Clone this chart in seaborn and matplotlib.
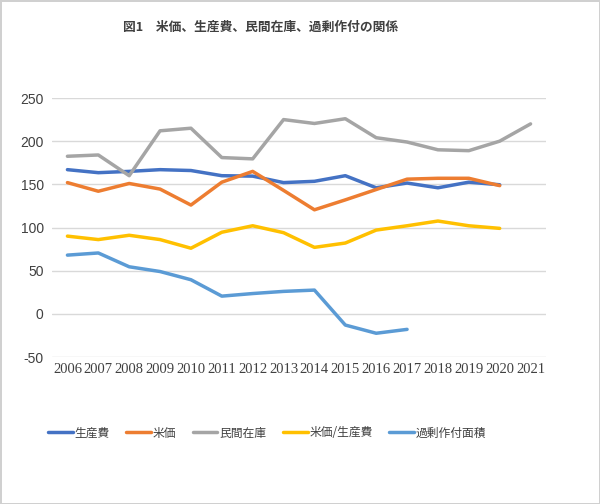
import matplotlib
matplotlib.use("Agg")
import matplotlib.pyplot as plt
import pandas as pd
import seaborn as sns

years = list(range(2006, 2022))
production_cost = [167, 163.5, 165, 167, 166, 160, 159.5, 152, 153.5, 160, 146, 151.5, 146, 152.5, 149.5, None]
rice_price = [152, 142, 151, 144.5, 126, 152.5, 165, 143, 120.5, 132, 144, 156, 157, 157, 148.5, None]
private_stock = [182.5, 184, 160, 212, 215, 181, 179.5, 225, 220.5, 226, 204, 199, 190, 189, 200, 220]
price_cost_ratio = [90, 86, 91, 86, 76, 94.5, 102, 94, 77, 82, 97, 102, 107.5, 102, 99, None]
excess_area = [68, 70.5, 54.5, 49, 39.5, 20.5, 23.5, 26, 27.5, -13, -22.5, -18, None, None, None, None]

series_names = ["生産費", "米価", "民間在庫", "米価/生産費", "過剰作付面積"]
series_values = [production_cost, rice_price, private_stock, price_cost_ratio, excess_area]
colors = ["#4472C4", "#ED7D31", "#A5A5A5", "#FFC000", "#5B9BD5"]

rows = []
for name, vals in zip(series_names, series_values):
    for yr, v in zip(years, vals):
        rows.append({"year": yr, "value": v, "series": name})
df = pd.DataFrame(rows).dropna()

sns.set_theme(style="white")
plt.rcParams["font.family"] = ["Noto Sans CJK JP", "DejaVu Sans"]

fig = plt.figure(figsize=(6, 5.04), dpi=100)
fig.patch.set_edgecolor("#D0D0D0")
fig.patch.set_linewidth(2)
ax = fig.add_axes([52 / 600, 1 - 357 / 504, 494 / 600, 259 / 504])

sns.lineplot(data=df, x="year", y="value", hue="series", hue_order=series_names,
             palette=colors, linewidth=2.5, ax=ax, legend=False)

ax.set_xlim(2005.5, 2021.5)
ax.set_ylim(-50, 250)
ax.set_yticks(range(-50, 251, 50))
ax.set_xticks(years)
ax.set_xticklabels([str(y) for y in years], family="Liberation Serif", fontsize=10.5, color="#404040")
ax.set_yticklabels([str(v) for v in range(-50, 251, 50)], family="Liberation Sans", fontsize=10, color="#404040")
ax.tick_params(axis="both", length=0, pad=6)
ax.tick_params(axis="x", pad=4)
ax.set_xlabel("")
ax.set_ylabel("")
ax.grid(axis="y", color="#D9D9D9", linewidth=1)
ax.set_axisbelow(True)
for s in ax.spines.values():
    s.set_visible(False)

handles = [plt.Line2D([0], [0], color=c, linewidth=2.5) for c in colors]
fig.legend(handles, series_names, loc="center", bbox_to_anchor=(267 / 600, 1 - 433 / 504),
           ncol=5, frameon=False, fontsize=8.5, handlelength=2.1, handletextpad=0.15,
           columnspacing=1.4, labelcolor="#404040")

fig.text(261 / 600, 1 - 27 / 504, "図1　米価、生産費、民間在庫、過剰作付の関係",
         ha="center", va="center", fontsize=9.2, fontweight="bold", color="#404040")

fig.savefig("out.png", dpi=100, edgecolor=fig.get_edgecolor())
